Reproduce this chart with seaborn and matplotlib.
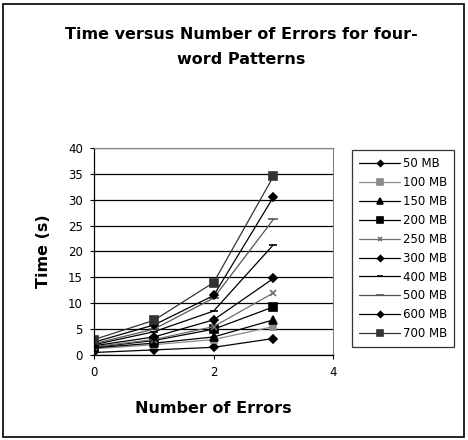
import pandas as pd
import numpy as np
import matplotlib
matplotlib.use("Agg")
import matplotlib.pyplot as plt
import seaborn as sns
from matplotlib.patches import Rectangle

sns.set_style("white")
plt.rcParams["font.family"] = ["DejaVu Sans"]
plt.rcParams["text.color"] = "black"
plt.rcParams["axes.labelcolor"] = "black"
plt.rcParams["xtick.color"] = "black"
plt.rcParams["ytick.color"] = "black"

# ==========================
# DATA
# ==========================

errors = [0, 1, 2, 3]
sizes = ["50 MB", "100 MB", "150 MB", "200 MB", "250 MB",
         "300 MB", "400 MB", "500 MB", "600 MB", "700 MB"]

t_50 = [0.5, 1.0, 1.5, 3.2]
t_100 = [1.2, 2.0, 3.0, 5.5]
t_150 = [1.4, 2.3, 3.5, 6.8]
t_200 = [1.5, 2.8, 5.0, 9.3]
t_250 = [1.6, 3.0, 5.5, 12.0]
t_300 = [1.8, 3.5, 6.8, 14.8]
t_400 = [2.0, 4.5, 8.5, 21.3]
t_500 = [2.2, 5.0, 11.0, 26.2]
t_600 = [2.5, 5.8, 11.5, 30.5]
t_700 = [3.0, 6.7, 14.0, 34.5]

series = [t_50, t_100, t_150, t_200, t_250, t_300, t_400, t_500, t_600, t_700]

colors = ["black", "#8c8c8c", "black", "black", "#6e6e6e",
          "black", "black", "#555555", "black", "#333333"]
markers = ["D", "s", "^", "s", "x", "D", "_", "_", "D", "s"]
msizes = [4, 5, 6, 6, 4, 4, 6, 7, 4, 6]

df = pd.DataFrame({
    "errors": errors * len(sizes),
    "time": [v for s in series for v in s],
    "size": [name for name in sizes for _ in errors],
})

# ==========================
# PLOT
# ==========================

fig = plt.figure(figsize=(4.68, 4.4), dpi=100)
ax = fig.add_axes([0.201, 0.193, 0.511, 0.471])

for name, col, mk, ms in zip(sizes, colors, markers, msizes):
    sub = df[df["size"] == name]
    sns.lineplot(data=sub, x="errors", y="time", ax=ax, color=col,
                 marker=mk, markersize=ms, markeredgewidth=1.2,
                 markeredgecolor=col, linewidth=0.9, label=name)

ax.set_xlim(0, 4)
ax.set_ylim(0, 40)
ax.set_xticks([0, 2, 4])
ax.set_yticks(range(0, 45, 5))
ax.tick_params(axis="both", labelsize=8.5, length=3, width=0.8,
               direction="out", left=True, bottom=True, pad=5)
ax.yaxis.grid(True, color="black", linewidth=0.9)
ax.set_axisbelow(True)
for side in ["top", "right"]:
    ax.spines[side].set_color("#808080")
    ax.spines[side].set_linewidth(0.8)
for side in ["left", "bottom"]:
    ax.spines[side].set_color("black")
    ax.spines[side].set_linewidth(0.9)

ax.set_xlabel("Number of Errors", fontsize=11.5, fontweight="bold", labelpad=16)
ax.set_ylabel("Time (s)", fontsize=11.5, fontweight="bold", labelpad=12)

fig.text(0.515, 0.893, "Time versus Number of Errors for four-\nword Patterns",
         ha="center", va="center", fontsize=11.5, fontweight="bold",
         linespacing=1.9)

leg = ax.legend(loc="upper left", bbox_to_anchor=(0.752, 0.659),
                bbox_transform=fig.transFigure,
                fontsize=8.5, frameon=True, fancybox=False, markerscale=0.75,
                handlelength=3.5, labelspacing=0.5, borderpad=0.6,
                handletextpad=0.2, borderaxespad=0)
leg.get_frame().set_edgecolor("black")
leg.get_frame().set_linewidth(0.9)

# figure border
fig.patches.append(Rectangle((0.006, 0.006), 0.985, 0.986,
                             transform=fig.transFigure, fill=False,
                             edgecolor="black", linewidth=1.2))

plt.savefig("out.png", dpi=100)
